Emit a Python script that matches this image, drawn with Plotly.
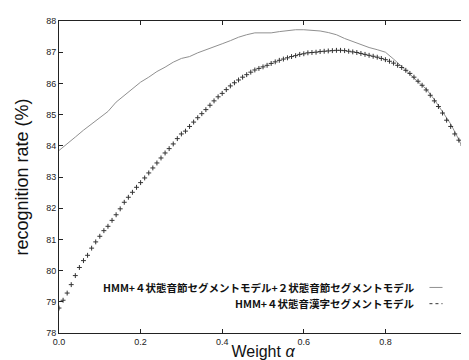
import plotly.graph_objects as go

# Series 1: HMM+4状態音節セグメントモデル+2状態音節セグメントモデル (solid thin line)
alpha_1 = [0.00, 0.02, 0.04, 0.06, 0.08, 0.10, 0.12, 0.14, 0.16, 0.18,
           0.20, 0.22, 0.24, 0.26, 0.28, 0.30, 0.32, 0.34, 0.36, 0.38,
           0.40, 0.42, 0.44, 0.46, 0.48, 0.50, 0.52, 0.54, 0.56, 0.58,
           0.60, 0.62, 0.64, 0.66, 0.68, 0.70, 0.72, 0.74, 0.76, 0.78,
           0.80, 0.82, 0.84, 0.86, 0.88, 0.90, 0.92, 0.94, 0.96, 0.98, 1.00]
rate_1 = [83.85, 84.08, 84.28, 84.50, 84.70, 84.90, 85.10, 85.40, 85.62, 85.85,
          86.04, 86.20, 86.38, 86.52, 86.68, 86.80, 86.86, 86.98, 87.07, 87.17,
          87.27, 87.37, 87.48, 87.56, 87.62, 87.62, 87.62, 87.66, 87.70, 87.72,
          87.72, 87.71, 87.68, 87.63, 87.56, 87.44, 87.34, 87.24, 87.15, 87.08,
          87.00, 86.78, 86.55, 86.30, 86.05, 85.82, 85.48, 85.10, 84.70, 84.20, 83.62]

# Series 2: HMM+4状態音漢字セグメントモデル ("+" markers)
alpha_2 = [0.00, 0.01, 0.02, 0.03, 0.04, 0.05, 0.06, 0.07, 0.08, 0.09,
           0.10, 0.11, 0.12, 0.13, 0.14, 0.15, 0.16, 0.17, 0.18, 0.19,
           0.20, 0.21, 0.22, 0.23, 0.24, 0.25, 0.26, 0.27, 0.28, 0.29,
           0.30, 0.31, 0.32, 0.33, 0.34, 0.35, 0.36, 0.37, 0.38, 0.39,
           0.40, 0.41, 0.42, 0.43, 0.44, 0.45, 0.46, 0.47, 0.48, 0.49,
           0.50, 0.51, 0.52, 0.53, 0.54, 0.55, 0.56, 0.57, 0.58, 0.59,
           0.60, 0.61, 0.62, 0.63, 0.64, 0.65, 0.66, 0.67, 0.68, 0.69,
           0.70, 0.71, 0.72, 0.73, 0.74, 0.75, 0.76, 0.77, 0.78, 0.79,
           0.80, 0.81, 0.82, 0.83, 0.84, 0.85, 0.86, 0.87, 0.88, 0.89,
           0.90, 0.91, 0.92, 0.93, 0.94, 0.95, 0.96, 0.97, 0.98, 0.99, 1.00]
rate_2 = [78.80, 79.05, 79.28, 79.55, 79.84, 80.10, 80.32, 80.49, 80.72, 80.92,
          81.10, 81.28, 81.42, 81.61, 81.79, 81.98, 82.19, 82.35, 82.51, 82.67,
          82.82, 82.97, 83.13, 83.29, 83.45, 83.61, 83.77, 83.91, 84.06, 84.23,
          84.38, 84.47, 84.62, 84.76, 84.90, 85.03, 85.16, 85.30, 85.44, 85.57,
          85.68, 85.80, 85.92, 86.02, 86.11, 86.20, 86.28, 86.36, 86.43, 86.48,
          86.53, 86.58, 86.64, 86.69, 86.74, 86.78, 86.82, 86.86, 86.89, 86.93,
          86.95, 86.98, 86.99, 87.00, 87.02, 87.03, 87.04, 87.05, 87.06, 87.06,
          87.05, 87.03, 87.01, 86.99, 86.96, 86.93, 86.90, 86.87, 86.84, 86.80,
          86.76, 86.71, 86.65, 86.58, 86.51, 86.42, 86.32, 86.20, 86.07, 85.94,
          85.79, 85.62, 85.44, 85.26, 85.05, 84.82, 84.62, 84.38, 84.18, 84.02, 83.75]

name_1 = "HMM+４状態音節セグメントモデル+２状態音節セグメントモデル"
name_2 = "HMM+４状態音漢字セグメントモデル"

x_ticks = [0.0, 0.2, 0.4, 0.6, 0.8, 1.0]
x_ticktext = ["0.0", "0.2", "0.4", "0.6", "0.8", "1.0"]
y_ticks = [78, 79, 80, 81, 82, 83, 84, 85, 86, 87, 88]

fig = go.Figure()
fig.add_trace(go.Scatter(x=alpha_1, y=rate_1, mode="lines", name=name_1,
                         line=dict(color="#909090", width=1), showlegend=False))
fig.add_trace(go.Scatter(x=alpha_2, y=rate_2, mode="markers", name=name_2,
                         marker=dict(symbol="cross-thin", size=3.5,
                                     line=dict(color="#333333", width=1)),
                         showlegend=False))

axis_common = dict(showline=True, linecolor="#222222", linewidth=1, mirror="ticks",
                   ticks="inside", ticklen=4, tickcolor="#222222", showgrid=False,
                   zeroline=False, ticklabeloverflow="allow",
                   tickfont=dict(family="Liberation Sans, Arial", size=9, color="#222222"))

fig.update_xaxes(range=[0, 1], tickvals=x_ticks, ticktext=x_ticktext,
                 title=dict(text="Weight <i>α</i>", standoff=0,
                            font=dict(family="Liberation Sans, Arial", size=16, color="#111111")),
                 **axis_common)
fig.update_yaxes(range=[78, 88], tickvals=y_ticks,
                 title=dict(text="recognition rate (%)", standoff=12,
                            font=dict(family="Liberation Sans Narrow, Liberation Sans, Arial",
                                      size=18, color="#111111")),
                 **axis_common)

legend_font = dict(family="Noto Sans CJK JP, Liberation Sans", size=10.5, color="#111111")
fig.add_annotation(x=0.874, y=0.146, xref="paper", yref="paper", text="<b>" + name_1 + "</b>",
                   showarrow=False, xanchor="right", yanchor="middle", font=legend_font,
                   borderpad=0)
fig.add_annotation(x=0.874, y=0.094, xref="paper", yref="paper", text="<b>" + name_2 + "</b>",
                   showarrow=False, xanchor="right", yanchor="middle", font=legend_font,
                   borderpad=0)
fig.add_shape(type="line", xref="paper", yref="paper", x0=0.908, x1=0.94, y0=0.146, y1=0.146,
              line=dict(color="#909090", width=1))
fig.add_shape(type="line", xref="paper", yref="paper", x0=0.908, x1=0.94, y0=0.094, y1=0.094,
              line=dict(color="#333333", width=1, dash="dot"))

fig.update_layout(width=469, height=360,
                  margin=dict(l=51, r=4, t=13, b=35),
                  paper_bgcolor="white", plot_bgcolor="white")

fig.write_html("out.html")
